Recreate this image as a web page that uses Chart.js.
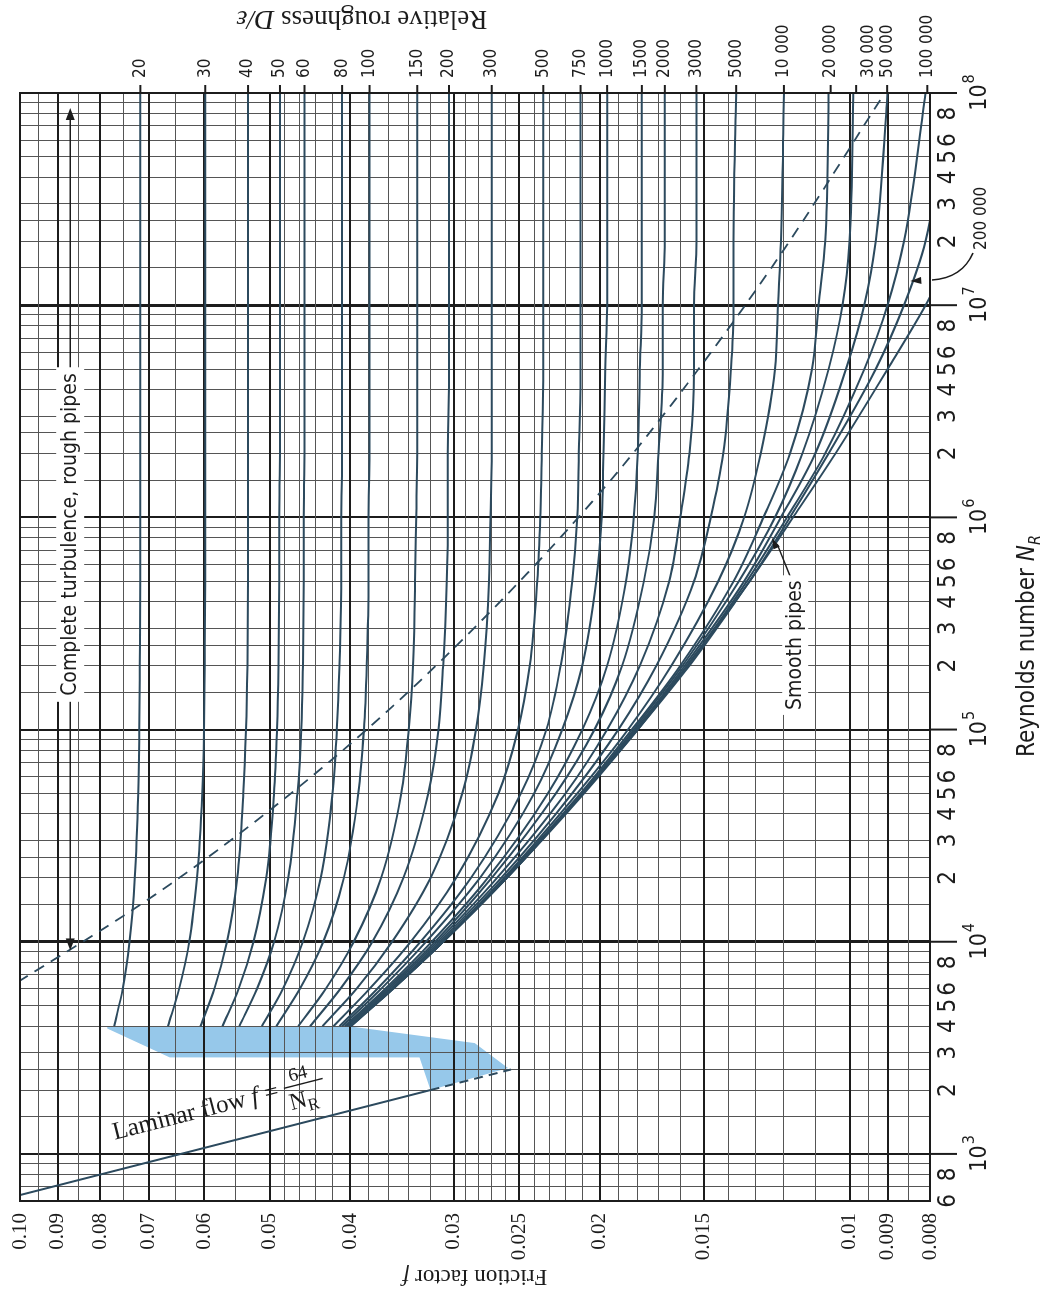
<!DOCTYPE html>
<html>
<head>
<meta charset="utf-8">
<title>Moody diagram</title>
<script src="https://cdn.jsdelivr.net/npm/chart.js@4.4.1/dist/chart.umd.min.js"></script>
<style>
  html, body { margin: 0; padding: 0; background: #fff; overflow: hidden; }
  /* the chart is drawn lying on its side, then turned a quarter to the left */
  #wrap { position: absolute; left: -123px; top: 123px; width: 1295px; height: 1049px; transform: rotate(-90deg); }
</style>
</head>
<body>
<div id="wrap"><canvas id="moody" width="1295" height="1049"></canvas></div>
<script>
var reynolds = [4000, 6000, 1e4, 2e4, 5e4, 1e5, 2e5, 5e5, 1e6, 2e6, 5e6, 1e7, 2e7, 1e8];

// friction factor for each relative roughness D/e
var f20 = [0.0770, 0.0752, 0.0738, 0.0727, 0.0720, 0.0718, 0.0717, 0.0716, 0.0716, 0.0716, 0.0716, 0.0716, 0.0716, 0.0716];
var f30 = [0.0663, 0.0643, 0.0625, 0.0612, 0.0603, 0.0600, 0.0599, 0.0598, 0.0598, 0.0598, 0.0598, 0.0598, 0.0598, 0.0598];
var f40 = [0.0606, 0.0583, 0.0563, 0.0547, 0.0538, 0.0534, 0.0532, 0.0531, 0.0531, 0.0531, 0.0531, 0.0531, 0.0531, 0.0531];
var f50 = [0.0570, 0.0545, 0.0523, 0.0505, 0.0494, 0.0490, 0.0488, 0.0487, 0.0487, 0.0486, 0.0486, 0.0486, 0.0486, 0.0486];
var f60 = [0.0544, 0.0518, 0.0494, 0.0475, 0.0463, 0.0458, 0.0456, 0.0455, 0.0455, 0.0454, 0.0454, 0.0454, 0.0454, 0.0454];
var f80 = [0.0511, 0.0482, 0.0456, 0.0434, 0.0420, 0.0415, 0.0412, 0.0410, 0.0410, 0.0409, 0.0409, 0.0409, 0.0409, 0.0409];
var f100 = [0.0491, 0.0460, 0.0431, 0.0407, 0.0391, 0.0385, 0.0382, 0.0380, 0.0380, 0.0379, 0.0379, 0.0379, 0.0379, 0.0379];
var f150 = [0.0462, 0.0428, 0.0396, 0.0367, 0.0347, 0.0340, 0.0336, 0.0334, 0.0333, 0.0332, 0.0332, 0.0332, 0.0332, 0.0332];
var f200 = [0.0447, 0.0411, 0.0376, 0.0345, 0.0322, 0.0313, 0.0309, 0.0306, 0.0305, 0.0305, 0.0304, 0.0304, 0.0304, 0.0304];
var f300 = [0.0432, 0.0393, 0.0356, 0.0320, 0.0293, 0.0282, 0.0276, 0.0272, 0.0271, 0.0270, 0.0270, 0.0270, 0.0270, 0.0270];
var f500 = [0.0419, 0.0379, 0.0338, 0.0298, 0.0265, 0.0251, 0.0243, 0.0238, 0.0236, 0.0235, 0.0234, 0.0234, 0.0234, 0.0234];
var f750 = [0.0412, 0.0371, 0.0329, 0.0286, 0.0249, 0.0232, 0.0223, 0.0216, 0.0213, 0.0212, 0.0211, 0.0211, 0.0211, 0.0211];
var f1000 = [0.0409, 0.0367, 0.0324, 0.0279, 0.0240, 0.0222, 0.0210, 0.0202, 0.0199, 0.0198, 0.0197, 0.0196, 0.0196, 0.0196];
var f1500 = [0.0406, 0.0363, 0.0319, 0.0273, 0.0231, 0.0210, 0.0196, 0.0186, 0.0182, 0.0180, 0.0179, 0.0178, 0.0178, 0.0178];
var f2000 = [0.0404, 0.0361, 0.0316, 0.0270, 0.0226, 0.0203, 0.0188, 0.0177, 0.0172, 0.0170, 0.0168, 0.0168, 0.0167, 0.0167];
var f3000 = [0.0402, 0.0359, 0.0314, 0.0266, 0.0220, 0.0196, 0.0179, 0.0165, 0.0160, 0.0156, 0.0154, 0.0154, 0.0153, 0.0153];
var f5000 = [0.0401, 0.0357, 0.0312, 0.0263, 0.0216, 0.0190, 0.0171, 0.0154, 0.0147, 0.0142, 0.0139, 0.0138, 0.0138, 0.0137];
var f10000 = [0.0400, 0.0356, 0.0310, 0.0261, 0.0213, 0.0185, 0.0164, 0.0144, 0.0134, 0.0128, 0.0123, 0.0122, 0.0121, 0.0120];
var f20000 = [0.0400, 0.0356, 0.0309, 0.0260, 0.0211, 0.0183, 0.0160, 0.0138, 0.0127, 0.0118, 0.0111, 0.0109, 0.0107, 0.0106];
var f30000 = [0.0400, 0.0356, 0.0309, 0.0260, 0.0210, 0.0182, 0.0159, 0.0136, 0.0123, 0.0114, 0.0106, 0.0102, 0.0100, 0.0099];
var f50000 = [0.0400, 0.0356, 0.0309, 0.0259, 0.0210, 0.0181, 0.0158, 0.0134, 0.0121, 0.0110, 0.0101, 0.0096, 0.0093, 0.0090];
var f100000 = [0.0400, 0.0356, 0.0309, 0.0259, 0.0210, 0.0181, 0.0157, 0.0133, 0.0119, 0.0107, 0.0096, 0.0090, 0.0086, 0.0081];
var f200000 = [0.0400, 0.0355, 0.0309, 0.0259, 0.0210, 0.0180, 0.0157, 0.0132, 0.0118, 0.0106, 0.0093, 0.0086, 0.0081, 0.0076];
var fSmooth = [0.0399, 0.0355, 0.0309, 0.0259, 0.0209, 0.0180, 0.0156, 0.0132, 0.0117, 0.0104, 0.0090, 0.0081, 0.0074, 0.0059];

var roughCurves = [f20, f30, f40, f50, f60, f80, f100, f150, f200, f300, f500, f750, f1000,
  f1500, f2000, f3000, f5000, f10000, f20000, f30000, f50000, f100000, f200000];
var roughLabels = ["20", "30", "40", "50", "60", "80", "100", "150", "200", "300", "500", "750", "1000",
  "1500", "2000", "3000", "5000", "10 000", "20 000", "30 000", "50 000", "100 000"];
// where each label's mark sits on the top scale (fully rough value)
var roughMarkF = [0.0716, 0.0598, 0.0531, 0.0486, 0.0454, 0.0409, 0.0379, 0.0332, 0.0304, 0.0270, 0.0234,
  0.0211, 0.0196, 0.0178, 0.0167, 0.0153, 0.0137, 0.0120, 0.01054, 0.00982, 0.00901, 0.00806];

// laminar line f = 64/NR, solid then dashed into the critical zone
var laminarRe = [640, 2000];
var laminarF = [0.100, 0.032];
var laminarDashRe = [2000, 2500];
var laminarDashF = [0.032, 0.0256];

// dashed border of complete turbulence
var turbRe = [5820, 14950, 34700, 102700, 365000, 1.43e6, 4.85e6, 1.83e7, 1.05e8];
var turbF = [0.105, 0.0716, 0.0531, 0.0379, 0.0270, 0.0196, 0.0153, 0.0120, 0.0090];

// shaded critical zone
var zoneRe = [4000, 4000, 3330, 2540, 2000, 2850, 2850, 3900, 4000];
var zoneF = [0.0785, 0.0402, 0.0283, 0.0258, 0.032, 0.033, 0.066, 0.0785, 0.0785];

// axis labels
var fTicks = [0.10, 0.09, 0.08, 0.07, 0.06, 0.05, 0.04, 0.03, 0.025, 0.02, 0.015, 0.01, 0.009, 0.008];
var fTickLabels = ["0.10", "0.09", "0.08", "0.07", "0.06", "0.05", "0.04", "0.03", "0.025", "0.02", "0.015", "0.01", "0.009", "0.008"];
var reMinor = [2, 3, 4, 5, 6, 8];
var reGridSteps = [1, 1.5, 2, 2.5, 3, 4, 5, 6, 7, 8, 9];

var serif = '"Liberation Serif", "DejaVu Serif", serif';
var narrow = '"Liberation Sans Narrow", "DejaVu Sans Condensed", sans-serif';
var curveColor = "#2c4a5e";

function reGrid() {
  var out = [];
  for (var n = 2; n <= 7; n++) {
    reGridSteps.forEach(function (m) {
      var v = m * Math.pow(10, n);
      if (v >= 600) out.push(v);
    });
  }
  out.push(1e8);
  return out;
}

function frictionGrid() {
  var out = [];
  for (var k = 16; k <= 200; k++) {
    if (k <= 20 || (k <= 60 && k % 2 == 0) || (k <= 100 && k % 4 == 0) || (k >= 100 && k % 10 == 0)) {
      out.push(k * 0.0005);
    }
  }
  return out;
}

function isDecade(v) {
  var l = Math.log10(v);
  return Math.abs(l - Math.round(l)) < 1e-6;
}

function isLabelledF(v) {
  return fTicks.some(function (t) { return Math.abs(t - v) < 1e-6; });
}

function pairs(xs, ys) {
  return xs.map(function (x, i) { return { x: x, y: ys[i] }; });
}

var datasets = [];
roughCurves.forEach(function (fr) {
  datasets.push({ data: pairs(reynolds, fr), borderColor: curveColor, borderWidth: 2 });
});
datasets.push({ data: pairs(reynolds, fSmooth), borderColor: curveColor, borderWidth: 2 });
datasets.push({ data: pairs(laminarRe, laminarF), borderColor: curveColor, borderWidth: 2 });
datasets.push({ data: pairs(laminarDashRe, laminarDashF), borderColor: curveColor, borderWidth: 2, borderDash: [9, 6] });
datasets.push({ data: pairs(turbRe, turbF), borderColor: curveColor, borderWidth: 1.8, borderDash: [11, 8] });
datasets.forEach(function (d) {
  d.showLine = true;
  d.pointRadius = 0;
  d.cubicInterpolationMode = "monotone";
});

function say(ctx, str, x, y, font, align, base, angle) {
  ctx.save();
  ctx.translate(x, y);
  if (angle) ctx.rotate(angle);
  ctx.font = font;
  ctx.textAlign = align || "center";
  ctx.textBaseline = base || "middle";
  ctx.fillText(str, 0, 0);
  ctx.restore();
}

function arrowHead(ctx, x, y, angle, len, wid) {
  ctx.save();
  ctx.translate(x, y);
  ctx.rotate(angle);
  ctx.beginPath();
  ctx.moveTo(0, 0);
  ctx.lineTo(-len, -wid / 2);
  ctx.lineTo(-len, wid / 2);
  ctx.closePath();
  ctx.fill();
  ctx.restore();
}

// blue critical zone goes under the grid
var zonePlugin = {
  id: "zone",
  beforeDraw: function (chart) {
    var ctx = chart.ctx, xs = chart.scales.x, ys = chart.scales.y, a = chart.chartArea;
    ctx.save();
    ctx.beginPath();
    ctx.rect(a.left, a.top, a.right - a.left, a.bottom - a.top);
    ctx.clip();
    ctx.beginPath();
    zoneRe.forEach(function (re, i) {
      var x = xs.getPixelForValue(re), y = ys.getPixelForValue(zoneF[i]);
      if (i == 0) ctx.moveTo(x, y); else ctx.lineTo(x, y);
    });
    ctx.closePath();
    ctx.fillStyle = "#96c8ea";
    ctx.fill();
    ctx.restore();
  }
};

var textPlugin = {
  id: "moodyText",
  afterDraw: function (chart) {
    var ctx = chart.ctx, xs = chart.scales.x, ys = chart.scales.y, a = chart.chartArea;
    function px(re) { return xs.getPixelForValue(re); }
    function py(f) { return ys.getPixelForValue(f); }
    ctx.save();
    ctx.fillStyle = "#1c1c1c";
    ctx.strokeStyle = "#1c1c1c";

    // frame
    ctx.lineWidth = 2;
    ctx.strokeRect(a.left, a.top, a.right - a.left, a.bottom - a.top);

    // Reynolds number axis
    for (var n = 3; n <= 8; n++) {
      var u = px(Math.pow(10, n));
      ctx.lineWidth = 2;
      ctx.beginPath();
      ctx.moveTo(u, a.bottom);
      ctx.lineTo(u, a.bottom + 27);
      ctx.stroke();
      ctx.font = "23px " + narrow;
      var w = ctx.measureText("10").width;
      ctx.font = "16px " + narrow;
      var sw = ctx.measureText(String(n)).width;
      var x0 = u - (w + sw) / 2;
      say(ctx, "10", x0, a.bottom + 50, "23px " + narrow, "left");
      say(ctx, String(n), x0 + w + 1, a.bottom + 40, "16px " + narrow, "left");
    }
    for (var d = 2; d <= 7; d++) {
      reMinor.forEach(function (m) {
        var v = m * Math.pow(10, d);
        if (v < 600) return;
        say(ctx, String(m), px(v), a.bottom + 19, "24px " + narrow);
      });
    }
    ctx.save();
    ctx.font = "24px " + narrow;
    var t1 = "Reynolds number ";
    var w1 = ctx.measureText(t1).width;
    ctx.font = "italic 24px " + narrow;
    var w2 = ctx.measureText("N").width;
    ctx.restore();
    var cx = (a.left + a.right) / 2 - (w1 + w2 + 8) / 2;
    say(ctx, t1, cx, a.bottom + 98, "24px " + narrow, "left");
    say(ctx, "N", cx + w1, a.bottom + 98, "italic 24px " + narrow, "left");
    say(ctx, "R", cx + w1 + w2, a.bottom + 106, "italic 16px " + narrow, "left");

    // friction factor axis
    fTicks.forEach(function (f, i) {
      say(ctx, fTickLabels[i], a.left - 12, py(f), "21px " + serif, "right");
    });
    ctx.save();
    ctx.translate(19, (a.top + a.bottom) / 2);
    ctx.rotate(-Math.PI / 2);
    ctx.font = "23px " + serif;
    var wf = ctx.measureText("Friction factor ").width;
    ctx.font = "italic 23px " + serif;
    var wi = ctx.measureText("f").width;
    say(ctx, "Friction factor ", -(wf + wi) / 2, 0, "23px " + serif, "left");
    say(ctx, "f", -(wf + wi) / 2 + wf, 0, "italic 23px " + serif, "left");
    ctx.restore();

    // relative roughness marks and labels at the far end
    roughLabels.forEach(function (lab, i) {
      var v = py(roughMarkF[i]);
      ctx.lineWidth = 2;
      ctx.beginPath();
      ctx.moveTo(a.right, v);
      ctx.lineTo(a.right + 8, v);
      ctx.stroke();
      var shift = lab == "30 000" ? 12 : 0;
      say(ctx, lab, a.right + 15, v + shift, "17px " + narrow, "left");
    });
    ctx.save();
    ctx.translate(1277, 362);
    ctx.rotate(-Math.PI / 2);
    ctx.font = "27px " + serif;
    var wr = ctx.measureText("Relative roughness ").width;
    ctx.font = "italic 27px " + serif;
    var wd = ctx.measureText("D/\u03b5").width;
    say(ctx, "Relative roughness ", -(wr + wd) / 2, 0, "27px " + serif, "left");
    say(ctx, "D/\u03b5", -(wr + wd) / 2 + wr, 0, "italic 27px " + serif, "left");
    ctx.restore();

    // 200 000 note with its hooked arrow
    ctx.lineWidth = 1.5;
    ctx.beginPath();
    ctx.moveTo(1042, 973);
    ctx.quadraticCurveTo(1017, 962, 1015, 932);
    ctx.stroke();
    arrowHead(ctx, px(1.3e7), py(0.00845), -Math.PI / 2 - 0.05, 11, 7);
    say(ctx, "200 000", 1045, 982, "17px " + narrow, "left");

    // complete turbulence label with its span arrows
    var vv = py(0.087);
    var uL = px(9100), uR = px(8.5e7);
    ctx.lineWidth = 1.5;
    ctx.beginPath();
    ctx.moveTo(uL + 10, vv);
    ctx.lineTo(uR - 10, vv);
    ctx.stroke();
    arrowHead(ctx, uR, vv, 0, 12, 9);
    arrowHead(ctx, uL, vv, Math.PI, 12, 9);
    var ct = "Complete turbulence, rough pipes";
    ctx.font = "21px " + narrow;
    var wc = ctx.measureText(ct).width;
    var uc = px(8.3e5);
    ctx.fillStyle = "#fff";
    ctx.fillRect(uc - wc / 2 - 6, vv - 14, wc + 12, 28);
    ctx.fillStyle = "#1c1c1c";
    say(ctx, ct, uc, vv, "21px " + narrow);

    // smooth pipes label pointing at the lowest curve
    var vs = py(0.01163);
    var tip = { x: px(8e5), y: py(0.0124) };
    ctx.beginPath();
    ctx.moveTo(px(1.6e5), vs);
    ctx.lineTo(px(4.6e5), vs);
    ctx.lineTo(tip.x - 6, tip.y + 5);
    ctx.stroke();
    arrowHead(ctx, tip.x, tip.y, Math.atan2(tip.y - vs, tip.x - px(4.6e5)), 11, 7);
    ctx.font = "21px " + narrow;
    var ws = ctx.measureText("Smooth pipes").width;
    var us = px(2.5e5);
    ctx.fillStyle = "#fff";
    ctx.fillRect(us - ws / 2 - 5, vs - 13, ws + 10, 26);
    ctx.fillStyle = "#1c1c1c";
    say(ctx, "Smooth pipes", us, vs, "21px " + narrow);

    // laminar flow label along its line
    var p0 = { x: px(640), y: py(0.1) }, p1 = { x: px(2000), y: py(0.032) };
    var ang = Math.atan2(p1.y - p0.y, p1.x - p0.x);
    var pa = { x: px(850), y: py(64 / 850) };
    ctx.save();
    ctx.translate(pa.x + Math.sin(ang) * 30, pa.y - Math.cos(ang) * 30);
    ctx.rotate(ang);
    ctx.font = "25px " + serif;
    ctx.textBaseline = "alphabetic";
    var lt = "Laminar flow ";
    ctx.fillText(lt, 0, 0);
    var xw = ctx.measureText(lt).width;
    ctx.font = "italic 25px " + serif;
    ctx.fillText("f", xw, 0);
    xw += ctx.measureText("f").width;
    ctx.font = "25px " + serif;
    ctx.fillText(" = ", xw, 0);
    xw += ctx.measureText(" = ").width;
    ctx.lineWidth = 1.4;
    ctx.beginPath();
    ctx.moveTo(xw, -8);
    ctx.lineTo(xw + 40, -8);
    ctx.stroke();
    ctx.font = "19px " + serif;
    ctx.textAlign = "center";
    ctx.fillText("64", xw + 17, -13);
    ctx.textAlign = "left";
    ctx.font = "24px " + serif;
    ctx.fillText("N", xw + 2, 15);
    var wn = ctx.measureText("N").width;
    ctx.font = "17px " + serif;
    ctx.fillText("R", xw + 2 + wn, 20);
    ctx.restore();

    ctx.restore();
  }
};

new Chart(document.getElementById("moody"), {
  type: "scatter",
  data: { datasets: datasets },
  plugins: [zonePlugin, textPlugin],
  options: {
    responsive: false,
    animation: false,
    layout: { padding: { left: 0, right: 93, top: 20, bottom: 0 } },
    plugins: { legend: { display: false }, tooltip: { enabled: false } },
    scales: {
      x: {
        type: "logarithmic",
        position: "bottom",
        min: 600,
        max: 1e8,
        bounds: "data",
        afterBuildTicks: function (s) { s.ticks = reGrid().map(function (v) { return { value: v }; }); },
        afterFit: function (s) { s.height = 119; },
        ticks: { display: false, autoSkip: false },
        border: { display: false },
        grid: {
          drawTicks: false,
          color: function (c) { return isDecade(c.tick.value) ? "#1c1c1c" : "#555"; },
          lineWidth: function (c) {
            var v = c.tick.value;
            if (Math.abs(v - 1e4) < 1 || Math.abs(v - 1e7) < 1) return 3;
            return isDecade(v) ? 2 : 1;
          }
        }
      },
      y: {
        type: "logarithmic",
        position: "left",
        min: 0.008,
        max: 0.1,
        bounds: "data",
        afterBuildTicks: function (s) { s.ticks = frictionGrid().map(function (v) { return { value: v }; }); },
        afterFit: function (s) { s.width = 94; },
        ticks: { display: false, autoSkip: false },
        border: { display: false },
        grid: {
          drawTicks: false,
          color: function (c) { return isLabelledF(c.tick.value) ? "#1c1c1c" : "#555"; },
          lineWidth: function (c) { return isLabelledF(c.tick.value) ? 2 : 1; }
        }
      }
    }
  }
});
</script>
</body>
</html>
